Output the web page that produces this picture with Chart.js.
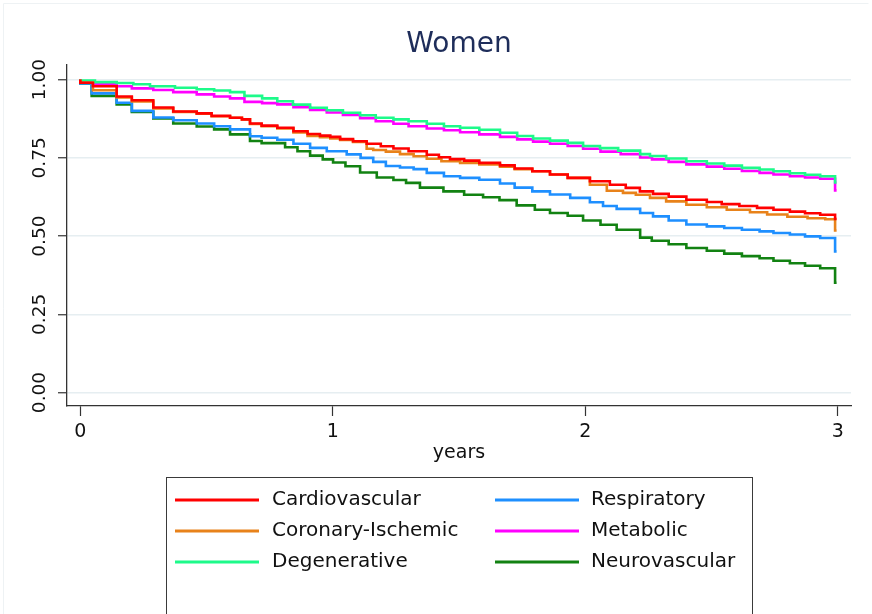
<!DOCTYPE html>
<html><head><meta charset="utf-8">
<script src="https://cdn.jsdelivr.net/npm/chart.js@4.4.1/dist/chart.umd.min.js"></script>
<style>html,body{margin:0;padding:0;background:#fff}canvas{display:block}</style>
</head><body>
<canvas id="c" width="872" height="614"></canvas>
<script>
// ---- data (years, survival) ----
const cardioT = [0, 0.050, 0.144, 0.204, 0.289, 0.368, 0.461, 0.52, 0.593, 0.64, 0.672, 0.718, 0.78, 0.844, 0.90, 0.949, 0.99, 1.029, 1.08, 1.134, 1.19, 1.240, 1.30, 1.372, 1.42, 1.464, 1.52, 1.58, 1.662, 1.72, 1.79, 1.860, 1.93, 2.018, 2.097, 2.16, 2.216, 2.268, 2.33, 2.40, 2.481, 2.54, 2.61, 2.68, 2.745, 2.81, 2.87, 2.93, 2.989, 2.995];
const cardioS = [1.0, 0.990, 0.979, 0.946, 0.934, 0.911, 0.898, 0.892, 0.884, 0.878, 0.873, 0.860, 0.853, 0.846, 0.835, 0.826, 0.821, 0.817, 0.810, 0.803, 0.795, 0.787, 0.780, 0.771, 0.760, 0.752, 0.746, 0.741, 0.734, 0.726, 0.716, 0.707, 0.697, 0.686, 0.675, 0.664, 0.654, 0.643, 0.635, 0.626, 0.616, 0.609, 0.602, 0.596, 0.590, 0.584, 0.578, 0.573, 0.568, 0.555];

const coronaryT = [0, 0.05, 0.144, 0.204, 0.289, 0.368, 0.461, 0.52, 0.593, 0.64, 0.672, 0.718, 0.78, 0.844, 0.90, 0.949, 0.99, 1.029, 1.08, 1.134, 1.160, 1.21, 1.266, 1.32, 1.372, 1.43, 1.504, 1.58, 1.662, 1.72, 1.79, 1.860, 1.93, 2.018, 2.085, 2.149, 2.20, 2.256, 2.32, 2.40, 2.481, 2.56, 2.652, 2.72, 2.80, 2.88, 2.95, 2.989, 2.995];
const coronaryS = [1.0, 0.990, 0.966, 0.943, 0.930, 0.908, 0.897, 0.891, 0.883, 0.878, 0.873, 0.858, 0.851, 0.844, 0.831, 0.820, 0.816, 0.812, 0.807, 0.801, 0.779, 0.775, 0.770, 0.762, 0.755, 0.747, 0.739, 0.734, 0.729, 0.722, 0.714, 0.707, 0.697, 0.686, 0.664, 0.645, 0.638, 0.632, 0.622, 0.611, 0.600, 0.592, 0.584, 0.576, 0.569, 0.562, 0.557, 0.554, 0.518];

const degenT = [0, 0.058, 0.144, 0.21, 0.276, 0.375, 0.461, 0.53, 0.593, 0.65, 0.720, 0.78, 0.842, 0.91, 0.976, 1.04, 1.108, 1.17, 1.240, 1.30, 1.372, 1.44, 1.504, 1.58, 1.662, 1.73, 1.793, 1.86, 1.93, 1.991, 2.058, 2.13, 2.217, 2.256, 2.32, 2.40, 2.481, 2.55, 2.62, 2.69, 2.745, 2.81, 2.87, 2.93, 2.989, 2.995];
const degenS = [1.0, 0.997, 0.992, 0.989, 0.985, 0.979, 0.974, 0.969, 0.965, 0.960, 0.948, 0.940, 0.931, 0.920, 0.910, 0.902, 0.894, 0.886, 0.878, 0.873, 0.867, 0.859, 0.851, 0.846, 0.840, 0.830, 0.820, 0.812, 0.805, 0.798, 0.788, 0.781, 0.773, 0.762, 0.756, 0.748, 0.739, 0.732, 0.725, 0.718, 0.713, 0.707, 0.701, 0.696, 0.691, 0.671];

const respT = [0, 0.045, 0.144, 0.204, 0.289, 0.368, 0.461, 0.53, 0.593, 0.672, 0.718, 0.78, 0.844, 0.91, 0.976, 1.055, 1.11, 1.160, 1.21, 1.266, 1.32, 1.372, 1.44, 1.504, 1.58, 1.662, 1.72, 1.79, 1.860, 1.94, 2.018, 2.07, 2.124, 2.217, 2.268, 2.33, 2.40, 2.481, 2.55, 2.62, 2.69, 2.745, 2.81, 2.87, 2.93, 2.989, 2.995];
const respS = [1.0, 0.988, 0.956, 0.926, 0.900, 0.879, 0.870, 0.860, 0.851, 0.841, 0.819, 0.814, 0.808, 0.795, 0.782, 0.771, 0.761, 0.750, 0.737, 0.724, 0.719, 0.714, 0.702, 0.691, 0.686, 0.680, 0.668, 0.655, 0.643, 0.633, 0.622, 0.608, 0.596, 0.587, 0.574, 0.563, 0.550, 0.537, 0.531, 0.526, 0.520, 0.515, 0.510, 0.505, 0.499, 0.494, 0.451];

const metabT = [0, 0.046, 0.144, 0.204, 0.289, 0.368, 0.461, 0.53, 0.593, 0.65, 0.720, 0.78, 0.844, 0.91, 0.976, 1.04, 1.108, 1.17, 1.240, 1.30, 1.372, 1.44, 1.504, 1.58, 1.662, 1.73, 1.793, 1.86, 1.93, 1.991, 2.06, 2.14, 2.217, 2.264, 2.33, 2.40, 2.481, 2.55, 2.62, 2.69, 2.745, 2.81, 2.87, 2.93, 2.989, 2.995];
const metabS = [1.0, 0.993, 0.985, 0.979, 0.972, 0.967, 0.960, 0.953, 0.946, 0.940, 0.929, 0.925, 0.921, 0.912, 0.903, 0.895, 0.887, 0.877, 0.867, 0.859, 0.851, 0.844, 0.838, 0.832, 0.825, 0.817, 0.809, 0.802, 0.795, 0.788, 0.779, 0.770, 0.762, 0.751, 0.745, 0.737, 0.729, 0.722, 0.715, 0.708, 0.702, 0.697, 0.691, 0.687, 0.683, 0.646];

const neuroT = [0, 0.045, 0.144, 0.204, 0.289, 0.368, 0.461, 0.53, 0.593, 0.672, 0.718, 0.811, 0.86, 0.910, 0.96, 1.001, 1.05, 1.108, 1.174, 1.240, 1.29, 1.345, 1.438, 1.52, 1.595, 1.66, 1.728, 1.80, 1.860, 1.93, 1.991, 2.06, 2.124, 2.217, 2.263, 2.33, 2.40, 2.481, 2.55, 2.62, 2.69, 2.745, 2.81, 2.87, 2.93, 2.989, 2.995];
const neuroS = [1.0, 0.988, 0.948, 0.921, 0.897, 0.876, 0.860, 0.850, 0.841, 0.825, 0.804, 0.797, 0.784, 0.771, 0.757, 0.745, 0.735, 0.723, 0.703, 0.687, 0.679, 0.670, 0.655, 0.643, 0.632, 0.624, 0.615, 0.598, 0.584, 0.574, 0.565, 0.550, 0.536, 0.520, 0.495, 0.485, 0.474, 0.462, 0.453, 0.444, 0.436, 0.429, 0.421, 0.413, 0.405, 0.397, 0.351];

const seriesLabels = ['Cardiovascular', 'Coronary-Ischemic', 'Degenerative', 'Respiratory', 'Metabolic', 'Neurovascular'];
const xTickValues = [0, 1, 2, 3];
const yTickValues = [0, 0.25, 0.5, 0.75, 1];
const chartTitle = 'Women';
const xAxisTitle = 'years';

// ---- styles ----
const seriesColors = ['#ff0000', '#e8821a', '#1dfa8a', '#1e8fff', '#ff00ff', '#128212'];
const FONT = 'DejaVu Sans';

const seriesT = [cardioT, coronaryT, degenT, respT, metabT, neuroT];
const seriesS = [cardioS, coronaryS, degenS, respS, metabS, neuroS];

const datasets = seriesLabels.map((lab, i) => ({
  label: lab,
  data: seriesT[i].map((t, j) => ({x: t, y: seriesS[i][j]})),
  borderColor: seriesColors[i],
  backgroundColor: seriesColors[i],
  borderWidth: 2.6,
  pointRadius: 0,
  stepped: 'after',
  fill: false,
  tension: 0
}));

const frame = {
  id: 'frame',
  beforeDraw(chart) {
    const ctx = chart.ctx;
    ctx.save();
    ctx.fillStyle = '#ffffff';
    ctx.fillRect(0, 0, chart.width, chart.height);
    ctx.strokeStyle = '#eef2f4';
    ctx.lineWidth = 1;
    ctx.beginPath();
    ctx.moveTo(3.5, chart.height); ctx.lineTo(3.5, 3.5); ctx.lineTo(chart.width - 3.5, 3.5);
    ctx.stroke();
    ctx.restore();
  }
};

const boxLegend = {
  id: 'boxLegend',
  afterDraw(chart) {
    const ctx = chart.ctx;
    ctx.save();
    ctx.strokeStyle = '#3a3a3a';
    ctx.lineWidth = 1;
    ctx.strokeRect(166.5, 477.5, 586, 160);
    const cols = [{lx: 175, tx: 272}, {lx: 495, tx: 591}];
    const rows = [500, 531, 562];
    chart.data.datasets.forEach((ds, i) => {
      const c = cols[Math.floor(i / 3)], y = rows[i % 3];
      ctx.strokeStyle = ds.borderColor;
      ctx.lineWidth = 3;
      ctx.beginPath(); ctx.moveTo(c.lx, y); ctx.lineTo(c.lx + 84, y); ctx.stroke();
      ctx.fillStyle = '#111';
      ctx.font = '20px "' + FONT + '"';
      ctx.textBaseline = 'middle';
      ctx.textAlign = 'left';
      ctx.fillText(ds.label, c.tx, y);
    });
    ctx.restore();
  }
};

new Chart(document.getElementById('c'), {
  type: 'line',
  data: {datasets},
  plugins: [frame, boxLegend],
  options: {
    responsive: false,
    animation: false,
    events: [],
    layout: {padding: {left: 0, right: 21, top: 0, bottom: 144}},
    plugins: {
      legend: {display: false},
      tooltip: {enabled: false},
      title: {
        display: true, text: chartTitle, fullSize: false,
        color: '#1e2d5a',
        font: {family: FONT, size: 28, weight: 'normal'},
        padding: {top: 28, bottom: 3}
      }
    },
    scales: {
      x: {
        type: 'linear', min: -0.0527, max: 3.052,
        afterBuildTicks: s => { s.ticks = xTickValues.map(v => ({value: v})); },
        afterFit: s => { s.height = 64; },
        ticks: {minRotation: 0, maxRotation: 0, padding: 5, color: '#111',
                font: {family: FONT, size: 19}, callback: v => String(v)},
        grid: {drawOnChartArea: false, drawTicks: true, tickColor: '#333', tickLength: 10, tickWidth: 1.2},
        border: {color: '#333', width: 1.3},
        title: {display: true, text: xAxisTitle, color: '#111',
                font: {family: FONT, size: 19}, padding: {top: 0, bottom: 6}}
      },
      y: {
        type: 'linear', min: -0.043, max: 1.048,
        afterBuildTicks: s => { s.ticks = yTickValues.map(v => ({value: v})); },
        afterFit: s => { s.width = 67; },
        ticks: {minRotation: 90, maxRotation: 90, crossAlign: 'center', padding: -3, color: '#111',
                font: {family: FONT, size: 18.5}, callback: v => Number(v).toFixed(2)},
        grid: {color: '#e6eef1', lineWidth: 1.5, drawTicks: true, tickColor: '#333', tickLength: 9, tickWidth: 1.2},
        border: {color: '#333', width: 1.3}
      }
    }
  }
});
</script>
</body></html>
